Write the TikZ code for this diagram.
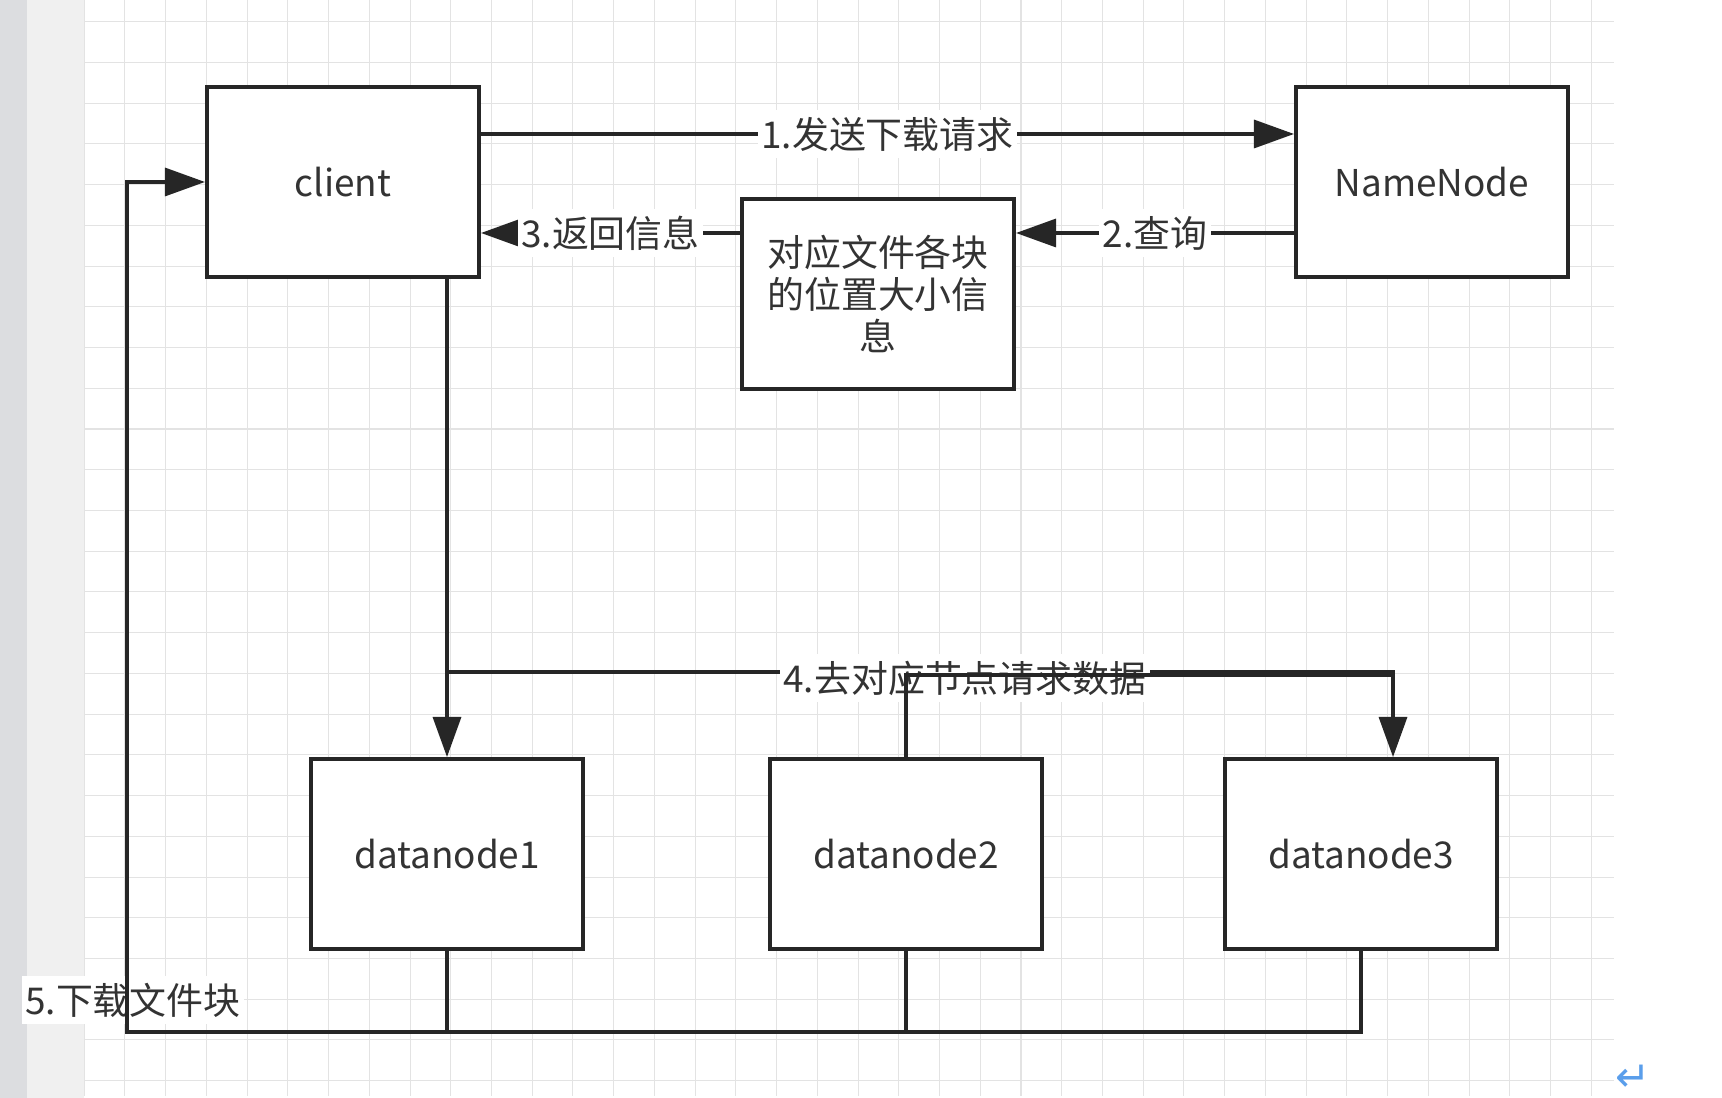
\documentclass[tikz,border=0pt]{standalone}
\usepackage{fontspec}
\setmainfont{Noto Sans CJK SC}
\newfontfamily\markfont{DejaVu Sans}
\usetikzlibrary{arrows.meta}
\definecolor{linecol}{HTML}{262626}
\definecolor{txtcol}{HTML}{333333}
\definecolor{gridcol}{HTML}{E3E3E3}
\definecolor{stripdark}{HTML}{DCDDE0}
\definecolor{striplight}{HTML}{F0F0F0}
\definecolor{markblue}{HTML}{5A9EEB}
\tikzset{
  box/.style={draw=linecol, line width=1.1pt, fill=white, minimum width=2.72cm, minimum height=1.9cm,
    text=txtcol, align=center, font=\fontsize{10.5}{12}\selectfont},
  conn/.style={draw=linecol, line width=0.9pt},
  arr/.style={conn, -{Triangle[length=0.4cm, width=0.28cm]}},
  lbl/.style={fill=white, text=txtcol, inner xsep=1pt, inner ysep=2pt, font=\fontsize{10.5}{12}\selectfont},
  gridline/.style={draw=gridcol, line width=0.3pt}
}
\begin{document}
\begin{tikzpicture}[x=0.01cm, y=-0.01cm]
\useasboundingbox (0,0) rectangle (1722,1098);
\fill[white] (0,0) rectangle (1722,1098);
\fill[stripdark] (0,0) rectangle (27,1098);
\fill[striplight] (27,0) rectangle (84,1098);
\foreach \k in {0,...,37} \draw[gridline] ({84.2+40.73*\k},0) -- ({84.2+40.73*\k},1096);
\foreach \k in {0,...,26} \draw[gridline] (84,{21.7+40.73*\k}) -- (1614,{21.7+40.73*\k});

\node[box] (client) at (343,182) {client};
\node[box] (namenode) at (1432,182) {NameNode};
\node[box] (info) at (878,294) {对应文件各块\\的位置大小信\\息};
\node[box] (dn1) at (447,854) {datanode1};
\node[box] (dn2) at (906,854) {datanode2};
\node[box] (dn3) at (1361,854) {datanode3};

\coordinate (y1) at (0,134);
\coordinate (y2) at (0,233);
\coordinate (y4) at (0,672);
\coordinate (y4b) at (0,675);
\coordinate (x4) at (1393,0);
\coordinate (ybot) at (0,1032);
\coordinate (xl) at (127,0);

\draw[arr] (client.east |- y1) -- node[lbl] (l1) {1.发送下载请求} (namenode.west |- y1);
\draw[arr] (namenode.west |- y2) -- node[lbl] (l2) {2.查询} (info.east |- y2);
\draw[arr] (info.west |- y2) -- node[lbl] (l3) {3.返回信息} (client.east |- y2);

\draw[arr] (dn1 |- client.south) -- (dn1.north);
\draw[arr] (dn1 |- y4) -- (x4 |- y4) -- (x4 |- dn3.north);
\node[lbl] (l4) at (965,678) {4.去对应节点请求数据};
\draw[conn] (dn2.north) |- (x4 |- y4b);

\node[lbl, inner xsep=1pt] (l5) at (133,1000) {5.下载文件块};
\draw[conn] (dn1.south) -- (dn1.south |- ybot);
\draw[conn] (dn2.south) -- (dn2.south |- ybot);
\draw[arr] (dn3.south) -- (dn3.south |- ybot) -| (xl |- client.west) -- (client.west);

\node[text=markblue, font=\markfont\fontsize{12}{12}\selectfont, inner sep=0pt] (retmark) at (1633,1078) {↵};
\end{tikzpicture}
\end{document}
